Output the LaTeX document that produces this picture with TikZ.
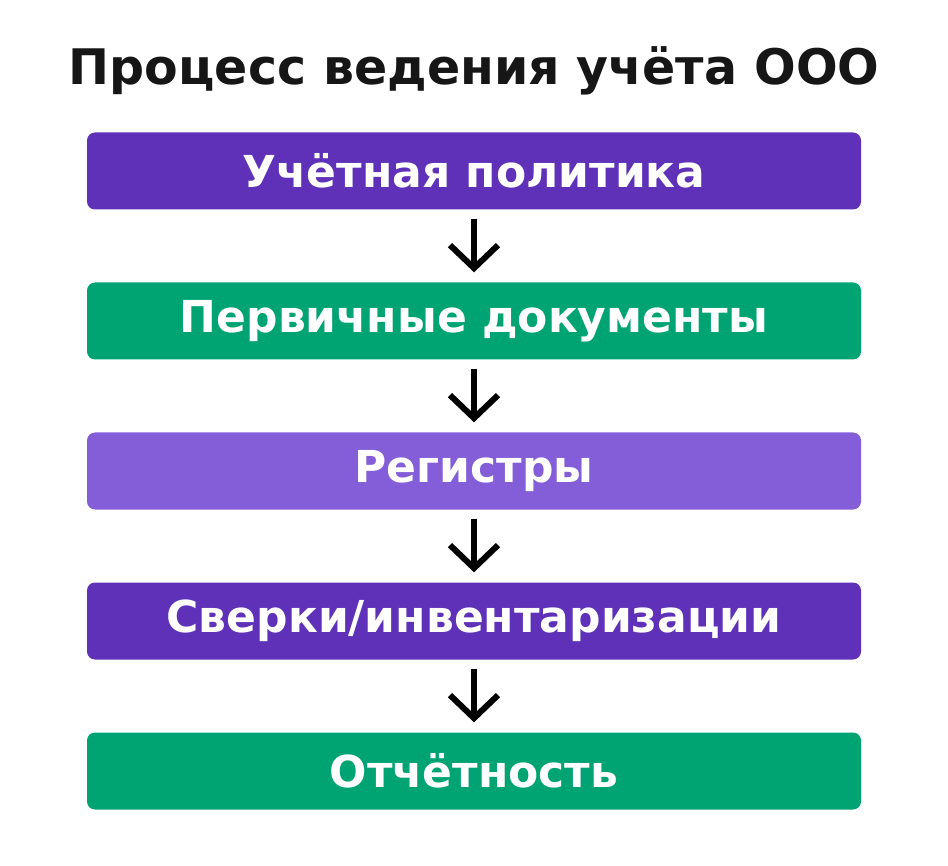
\documentclass[tikz,border=0pt]{standalone}
\usepackage{fontspec}
\setmainfont{DejaVu Sans}
\usetikzlibrary{arrows.meta}
\definecolor{purp}{HTML}{5E31B8}
\definecolor{grn}{HTML}{00A372}
\definecolor{lpurp}{HTML}{845ED8}
\definecolor{ttl}{HTML}{161616}
\tikzset{
  stepbox/.style={rounded corners=8pt, minimum width=774pt, minimum height=77pt, inner sep=0pt, text=white, font=\fontsize{44}{48}\selectfont\bfseries},
  flow/.style={line width=6pt, -{Straight Barb[length=23pt,width=48pt]}}
}
\begin{document}
\begin{tikzpicture}[x=1pt,y=-1pt]
\useasboundingbox (0,0) rectangle (948,866);
\node[font=\fontsize{49}{54}\selectfont\bfseries, text=ttl] (title) at (474,71) {Процесс ведения учёта ООО};
\node[stepbox, fill=purp] (b1) at (474,171) {Учётная политика};
\node[stepbox, fill=grn] (b2) at (474,321) {Первичные документы};
\node[stepbox, fill=lpurp] (b3) at (474,471) {Регистры};
\node[stepbox, fill=purp] (b4) at (474,621) {Сверки/инвентаризации};
\node[stepbox, fill=grn] (b5) at (474,771) {Отчётность};
\draw[flow] ([yshift=-9pt]b1.south) -- ([yshift=10pt]b2.north);
\draw[flow] ([yshift=-9pt]b2.south) -- ([yshift=10pt]b3.north);
\draw[flow] ([yshift=-9pt]b3.south) -- ([yshift=10pt]b4.north);
\draw[flow] ([yshift=-9pt]b4.south) -- ([yshift=10pt]b5.north);
\end{tikzpicture}
\end{document}
